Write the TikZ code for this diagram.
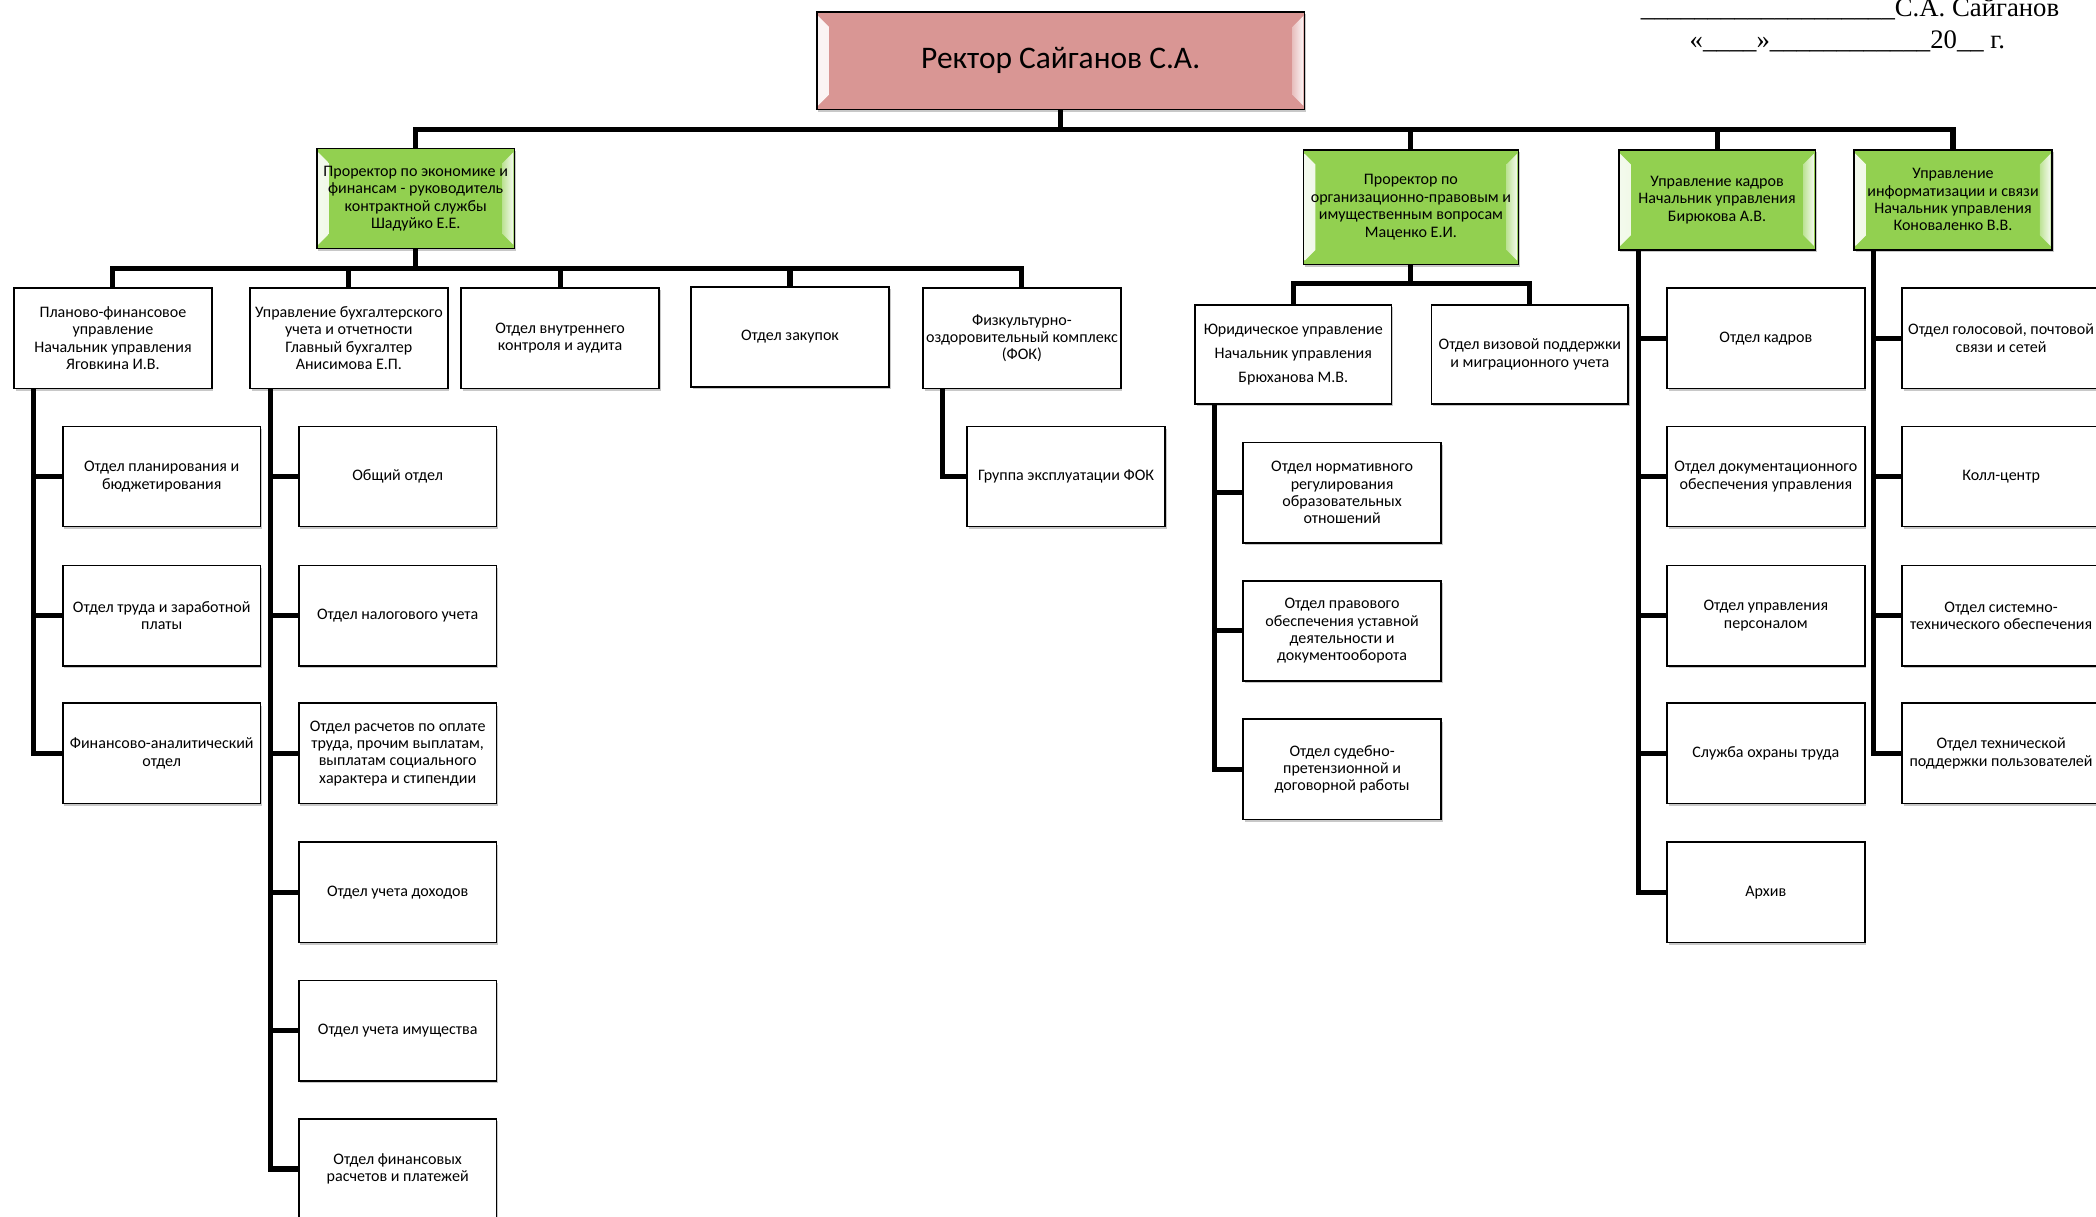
\documentclass[tikz,border=0pt]{standalone}
\usepackage{fontspec}
\setmainfont{Carlito}
\newfontfamily\tnr{Liberation Serif}
\usetikzlibrary{calc,shadows}
\definecolor{rectorfill}{RGB}{217,150,148}
\definecolor{greenfill}{RGB}{146,208,80}
\begin{document}
\begin{tikzpicture}[x=1pt,y=-1pt,
  conn/.style={line width=3.8pt, line join=miter, draw=black},
  box/.style={draw=black, line width=1.2pt, fill=white, rectangle,
    minimum width=148pt, minimum height=75pt, inner sep=1pt, align=center,
    font=\fontsize{12}{13}\selectfont,
    drop shadow={shadow xshift=1.2pt, shadow yshift=-1.8pt, opacity=0.3, fill=black!70}},
  bevel/.style={path picture={
    \shade[left color=#1!10!white, right color=#1!60!white]
      ([xshift=1pt,yshift=-3pt]path picture bounding box.north west) --
      ([xshift=9pt,yshift=-11pt]path picture bounding box.north west) --
      ([xshift=9pt,yshift=11pt]path picture bounding box.south west) --
      ([xshift=1pt,yshift=3pt]path picture bounding box.south west) -- cycle;
    \shade[right color=#1!10!white, left color=#1!60!white]
      ([xshift=-1pt,yshift=-3pt]path picture bounding box.north east) --
      ([xshift=-9pt,yshift=-11pt]path picture bounding box.north east) --
      ([xshift=-9pt,yshift=11pt]path picture bounding box.south east) --
      ([xshift=-1pt,yshift=3pt]path picture bounding box.south east) -- cycle;
  }},
  gbox/.style={box, fill=greenfill, bevel=greenfill},
  rbox/.style={box, fill=rectorfill, bevel=rectorfill, minimum width=365pt, minimum height=73pt,
    font=\fontsize{23.5}{27}\selectfont},
  jbox/.style={box, font=\fontsize{12}{18}\selectfont},
  sig/.style={font=\tnr\fontsize{20}{24}\selectfont, anchor=base, inner sep=0pt}
]
\useasboundingbox (0,0) rectangle (1568,910);
\fill[white] (0,0) rectangle (1568,910);

% signature block
\node[sig] (sig1) at (1384,12.5) {\_\_\_\_\_\_\_\_\_\_\_\_\_\_\_\_\_\_\_С.А. Сайганов};
\node[sig] (sig2) at (1382,36) {«\_\_\_\_»\_\_\_\_\_\_\_\_\_\_\_\_20\_\_ г.};

% rector
\node[rbox] (rector) at (793.5,45.5) {Ректор Сайганов С.А.};

% level 2
\node[gbox] (g1) at (311,148.5) {Проректор по экономике и\\финансам - руководитель\\контрактной службы\\Шадуйко Е.Е.};
\node[gbox, minimum width=161pt, minimum height=86pt] (g2) at (1055.5,155) {Проректор по\\организационно-правовым и\\имущественным вопросам\\Маценко Е.И.};
\node[gbox, minimum width=147pt] (g3) at (1284.5,149.5) {Управление кадров\\Начальник управления\\Бирюкова А.В.};
\node[gbox] (g4) at (1461,149.5) {Управление\\информатизации и связи\\Начальник управления\\Коноваленко В.В.};

\coordinate (bus0) at (793.5,97);
\foreach \g in {g1,g2,g3,g4}{\draw[conn] (rector.south) -- (bus0) -| (\g.north);}

% under g1
\node[box] (b1) at (84.5,253) {Планово-финансовое\\управление\\Начальник управления\\Яговкина И.В.};
\node[box] (b2) at (261,253) {Управление бухгалтерского\\учета и отчетности\\Главный бухгалтер\\Анисимова Е.П.};
\node[box] (b3) at (419,253) {Отдел внутреннего\\контроля и аудита};
\node[box] (b4) at (591,252) {Отдел закупок};
\node[box] (b5) at (764.5,253) {Физкультурно-\\оздоровительный комплекс\\(ФОК)};

\coordinate (bus1) at (311,201);
\foreach \b in {b1,b2,b3,b4,b5}{\draw[conn] (g1.south) -- (bus1) -| (\b.north);}

% under b1
\node[box] (b11) at (121,356.5) {Отдел планирования и\\бюджетирования};
\node[box] (b12) at (121,460.5) {Отдел труда и заработной\\платы};
\node[box] (b13) at (121,563.5) {Финансово-аналитический\\отдел};
\foreach \c in {b11,b12,b13}{\draw[conn] ([xshift=15pt]b1.south west) |- (\c.west);}

% under b2
\node[box] (b21) at (297.5,356.5) {Общий отдел};
\node[box] (b22) at (297.5,460.5) {Отдел налогового учета};
\node[box] (b23) at (297.5,563.5) {Отдел расчетов по оплате\\труда, прочим выплатам,\\выплатам социального\\характера и стипендии};
\node[box] (b24) at (297.5,667.5) {Отдел учета доходов};
\node[box] (b25) at (297.5,771) {Отдел учета имущества};
\node[box] (b26) at (297.5,874.5) {Отдел финансовых\\расчетов и платежей};
\foreach \c in {b21,b22,b23,b24,b25,b26}{\draw[conn] ([xshift=16pt]b2.south west) |- (\c.west);}

% under b5
\node[box] (b51) at (797.5,356.5) {Группа эксплуатации ФОК};
\draw[conn] ([xshift=15pt]b5.south west) |- (b51.west);

% under g2
\node[jbox, minimum width=147pt, minimum height=74pt] (jur) at (967.5,265) {Юридическое управление\\Начальник управления\\Брюханова М.В.};
\node[box, minimum width=147pt, minimum height=74pt] (visa) at (1144.5,265) {Отдел визовой поддержки\\и миграционного учета};
\coordinate (bus2) at (1055.5,212);
\foreach \b in {jur,visa}{\draw[conn] (g2.south) -- (bus2) -| (\b.north);}

\node[box] (j1) at (1004,368.5) {Отдел нормативного\\регулирования\\образовательных\\отношений};
\node[box] (j2) at (1004,472) {Отдел правового\\обеспечения уставной\\деятельности и\\документооборота};
\node[box] (j3) at (1004,575.5) {Отдел судебно-\\претензионной и\\договорной работы};
\foreach \c in {j1,j2,j3}{\draw[conn] ([xshift=15pt]jur.south west) |- (\c.west);}

% under g3
\node[box] (k1) at (1321,253) {Отдел кадров};
\node[box] (k2) at (1321,356.5) {Отдел документационного\\обеспечения управления};
\node[box] (k3) at (1321,460.5) {Отдел управления\\персоналом};
\node[box] (k4) at (1321,563.5) {Служба охраны труда};
\node[box] (k5) at (1321,667.5) {Архив};
\foreach \c in {k1,k2,k3,k4,k5}{\draw[conn] ([xshift=15pt]g3.south west) |- (\c.west);}

% under g4
\node[box] (i1) at (1497,253) {Отдел голосовой, почтовой\\связи и сетей};
\node[box] (i2) at (1497,356.5) {Колл-центр};
\node[box] (i3) at (1497,460.5) {Отдел системно-\\технического обеспечения};
\node[box] (i4) at (1497,563.5) {Отдел технической\\поддержки пользователей};
\foreach \c in {i1,i2,i3,i4}{\draw[conn] ([xshift=15pt]g4.south west) |- (\c.west);}
\end{tikzpicture}
\end{document}
